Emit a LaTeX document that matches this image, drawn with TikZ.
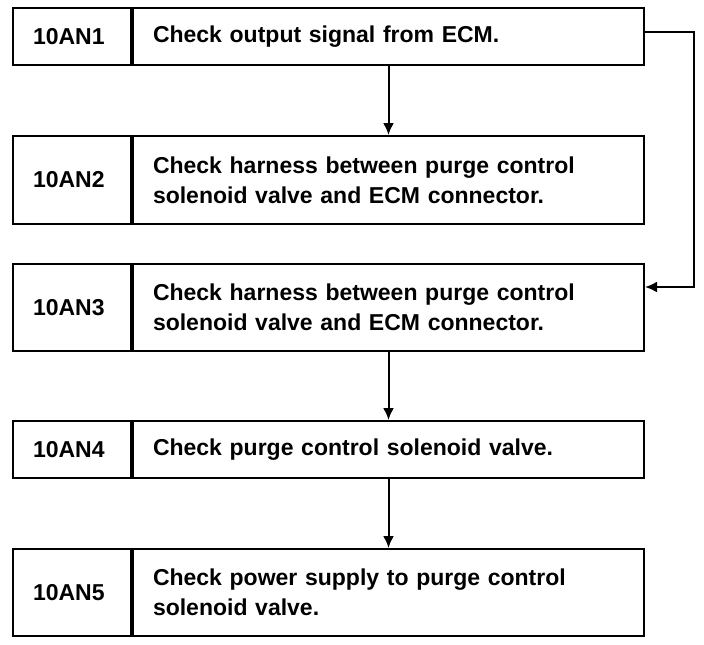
\documentclass[tikz,border=0pt]{standalone}
\usepackage{fontspec}
\setmainfont{Liberation Sans}
\usetikzlibrary{positioning,arrows.meta}

\tikzset{
  codebox/.style={draw,line width=1pt,anchor=north west,inner xsep=10pt,inner ysep=0pt,
    text width=39pt,align=left,minimum height=#1,font=\fontsize{11.5}{15}\selectfont\bfseries},
  stepbox/.style={draw,line width=1pt,inner xsep=10pt,inner ysep=0pt,
    text width=235.5pt,align=left,minimum height=#1,font=\fontsize{11.5}{15}\selectfont\bfseries},
  arr/.style={line width=1pt,-{Latex[length=6pt,width=5.5pt]}}
}

\begin{document}
\begin{tikzpicture}[x=.5pt,y=-.5pt]
    \useasboundingbox (0,0) rectangle (704,644);

    \node[codebox=28.5pt] (c1) at (12,7) {10AN1};
    \node[stepbox=28.5pt,right=0pt of c1] (t1) {Check output signal from ECM.};

    \node[codebox=44pt] (c2) at (12,135) {10AN2};
    \node[stepbox=44pt,right=0pt of c2] (t2) {Check harness between purge control\\solenoid valve and ECM connector.};

    \node[codebox=43.5pt] (c3) at (12,263) {10AN3};
    \node[stepbox=43.5pt,right=0pt of c3] (t3) {Check harness between purge control\\solenoid valve and ECM connector.};

    \node[codebox=28.5pt] (c4) at (12,420) {10AN4};
    \node[stepbox=28.5pt,right=0pt of c4] (t4) {Check purge control solenoid valve.};

    \node[codebox=43.5pt] (c5) at (12,548) {10AN5};
    \node[stepbox=43.5pt,right=0pt of c5] (t5) {Check power supply to purge control\\solenoid valve.};

    % thicker dividers
    \draw[line width=1.6pt] (c1.north east)--(c1.south east);
    \draw[line width=1.6pt] (c2.north east)--(c2.south east);
    \draw[line width=1.6pt] (c3.north east)--(c3.south east);
    \draw[line width=1.6pt] (c4.north east)--(c4.south east);
    \draw[line width=1.6pt] (c5.north east)--(c5.south east);

    \draw[arr] (t1)--(t2);
    \draw[arr] (t3)--(t4);
    \draw[arr] (t4)--(t5);
    \coordinate (in3) at ([yshift=-12pt]t3.north east);
    \draw[arr] ([yshift=2.5pt]t1.east)--++(49,0) |- (in3);
\end{tikzpicture}
\end{document}
